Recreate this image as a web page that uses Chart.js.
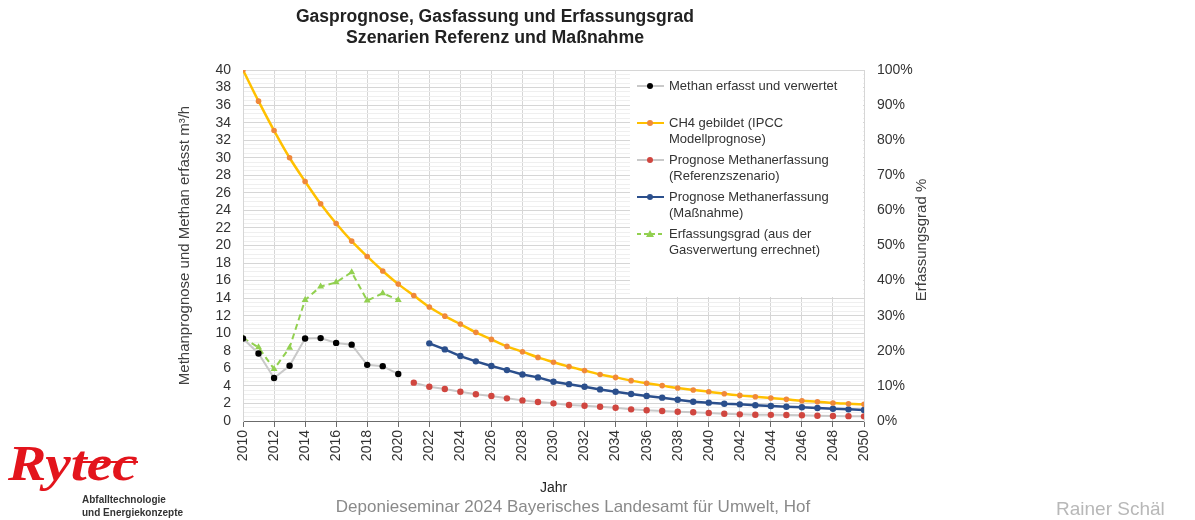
<!DOCTYPE html>
<html lang="de">
<head>
  <meta charset="UTF-8">
  <title>Gasprognose, Gasfassung und Erfassungsgrad</title>
  <script src="https://cdn.jsdelivr.net/npm/chart.js"></script>
  <style>
    body { margin: 0; background: #fff; }
    canvas { display: block; }
  </style>
</head>
<body>
  <canvas id="gasChart" width="1195" height="520"></canvas>

  <script>
    // measured values 2010-2020
    const measuredYears = [2010, 2011, 2012, 2013, 2014, 2015, 2016, 2017, 2018, 2019, 2020]
    const methanErfasst = [9.4, 7.7, 4.9, 6.3, 9.4, 9.45, 8.9, 8.7, 6.4, 6.25, 5.35]
    const erfassungsgrad = [23.6, 21.0, 14.8, 20.9, 34.5, 38.3, 39.5, 42.4, 34.3, 36.4, 34.5]

    // IPCC model forecast 2010-2050
    const ch4Start = 2010
    const ch4Gebildet = [40, 36.45, 33.1, 30.0, 27.3, 24.75, 22.5, 20.5, 18.75, 17.1,
      15.6, 14.3, 13.0, 11.95, 11.05, 10.1, 9.3, 8.5, 7.9, 7.25,
      6.7, 6.2, 5.75, 5.3, 4.97, 4.6, 4.3, 4.03, 3.76, 3.53,
      3.34, 3.11, 2.92, 2.77, 2.62, 2.47, 2.31, 2.2, 2.05, 1.97, 1.9]

    // capture forecast, reference scenario 2021-2050
    const refStart = 2021
    const prognoseReferenz = [4.37, 3.9, 3.64, 3.34, 3.04, 2.85, 2.58, 2.35, 2.16, 2.01,
      1.82, 1.74, 1.63, 1.51, 1.33, 1.22, 1.14, 1.06, 0.99, 0.91,
      0.83, 0.76, 0.72, 0.7, 0.68, 0.65, 0.6, 0.57, 0.55, 0.53]

    // capture forecast with measures 2022-2050
    const massStart = 2022
    const prognoseMassnahme = [8.85, 8.16, 7.4, 6.8, 6.26, 5.8, 5.3, 4.97, 4.48, 4.2,
      3.9, 3.6, 3.34, 3.08, 2.85, 2.66, 2.43, 2.2, 2.09, 1.97,
      1.9, 1.79, 1.71, 1.63, 1.56, 1.48, 1.4, 1.33, 1.25]

    const legendLabels = [
      ["Methan erfasst und verwertet"],
      ["CH4 gebildet (IPCC", "Modellprognose)"],
      ["Prognose Methanerfassung", "(Referenzszenario)"],
      ["Prognose Methanerfassung", "(Maßnahme)"],
      ["Erfassungsgrad (aus der", "Gasverwertung errechnet)"]
    ]

    const fromStart = (start, vals) => vals.map((v, i) => ({ x: start + i, y: v }))
    const fromYears = (yrs, vals) => vals.map((v, i) => ({ x: yrs[i], y: v }))

    const FONT = '"Liberation Sans", Arial, sans-serif'
    const TEXT = '#404040'

    const datasets = [
      {
        label: legendLabels[0].join(' '),
        data: fromYears(measuredYears, methanErfasst),
        borderColor: '#c9c9c9', borderWidth: 2,
        pointBackgroundColor: '#000', pointBorderWidth: 0,
        pointRadius: 3.2, yAxisID: 'y'
      },
      {
        label: legendLabels[1].join(' '),
        data: fromStart(ch4Start, ch4Gebildet),
        borderColor: '#ffc000', borderWidth: 2.5,
        pointBackgroundColor: '#f0883a', pointBorderWidth: 0,
        pointRadius: 2.8, cubicInterpolationMode: 'monotone', yAxisID: 'y'
      },
      {
        label: legendLabels[2].join(' '),
        data: fromStart(refStart, prognoseReferenz),
        borderColor: '#c9c9c9', borderWidth: 2,
        pointBackgroundColor: '#d0463f', pointBorderWidth: 0,
        pointRadius: 3.2, yAxisID: 'y'
      },
      {
        label: legendLabels[3].join(' '),
        data: fromStart(massStart, prognoseMassnahme),
        borderColor: '#2b4f8c', borderWidth: 2.5,
        pointBackgroundColor: '#2b4f8c', pointBorderWidth: 0,
        pointRadius: 3.2, yAxisID: 'y'
      },
      {
        label: legendLabels[4].join(' '),
        data: fromYears(measuredYears, erfassungsgrad),
        borderColor: '#92d050', borderWidth: 2, borderDash: [6, 4],
        pointStyle: 'triangle',
        pointBackgroundColor: '#92d050', pointBorderWidth: 0,
        pointRadius: 4, yAxisID: 'y1'
      }
    ]

    // draw text squeezed horizontally to a given width
    function fitText(ctx, text, cx, cy, width) {
      const w = ctx.measureText(text).width
      ctx.save()
      ctx.translate(cx, cy)
      ctx.scale(width / w, 1)
      ctx.fillText(text, 0, 0)
      ctx.restore()
    }

    // titles, legend box, footer and logo
    const decorations = {
      id: 'decorations',
      afterDatasetsDraw(chart) {
        const ctx = chart.ctx
        ctx.save()

        // title
        ctx.fillStyle = '#222'
        ctx.textAlign = 'center'
        ctx.textBaseline = 'middle'
        ctx.font = 'bold 18px ' + FONT
        fitText(ctx, 'Gasprognose, Gasfassung und Erfassungsgrad', 495, 17, 398)
        fitText(ctx, 'Szenarien Referenz und Maßnahme', 495, 38, 298)

        // right axis title, reading upwards
        ctx.save()
        ctx.translate(922, 240)
        ctx.rotate(-Math.PI / 2)
        ctx.font = '15px ' + FONT
        ctx.fillStyle = TEXT
        ctx.fillText('Erfassungsgrad %', 0, 0)
        ctx.restore()

        // legend box
        ctx.fillStyle = '#fff'
        ctx.fillRect(630, 71, 233, 226)
        const rows = [86, 123, 160, 197, 234]
        ctx.font = '13px ' + FONT
        ctx.textAlign = 'left'
        chart.data.datasets.forEach((ds, i) => {
          const y = rows[i]
          ctx.save()
          ctx.strokeStyle = ds.borderColor
          ctx.lineWidth = 2
          if (ds.borderDash) ctx.setLineDash([4, 3])
          ctx.beginPath()
          ctx.moveTo(637, y)
          ctx.lineTo(664, y)
          ctx.stroke()
          ctx.restore()
          ctx.fillStyle = ds.pointBackgroundColor
          ctx.beginPath()
          if (ds.pointStyle === 'triangle') {
            ctx.moveTo(650, y - 4)
            ctx.lineTo(654, y + 3)
            ctx.lineTo(646, y + 3)
            ctx.closePath()
          } else {
            ctx.arc(650, y, 3, 0, Math.PI * 2)
          }
          ctx.fill()
          ctx.fillStyle = '#333'
          legendLabels[i].forEach((line, j) => ctx.fillText(line, 669, y + j * 16))
        })

        // footer
        ctx.textAlign = 'center'
        ctx.font = '17px ' + FONT
        ctx.fillStyle = '#8a8a8a'
        ctx.fillText('Deponieseminar 2024 Bayerisches Landesamt für Umwelt, Hof', 573, 507)
        ctx.font = '19px ' + FONT
        ctx.fillStyle = '#b8b8b8'
        ctx.textAlign = 'left'
        ctx.fillText('Rainer Schäl', 1056, 510)

        // logo
        ctx.fillStyle = '#e3141c'
        ctx.textBaseline = 'alphabetic'
        ctx.font = 'italic bold 50px "Liberation Serif", "DejaVu Serif", serif'
        ctx.save()
        ctx.translate(8, 480)
        ctx.scale(1.15, 1)
        ctx.fillText('Rytec', 0, 0)
        ctx.restore()
        ctx.fillRect(82, 461, 56, 2)
        ctx.fillStyle = '#333'
        ctx.textBaseline = 'middle'
        ctx.font = 'bold 10px ' + FONT
        ctx.fillText('Abfalltechnologie', 82, 500)
        ctx.fillText('und Energiekonzepte', 82, 513)

        ctx.restore()
      }
    }

    const ctx = document.getElementById('gasChart').getContext('2d')
    const gasChart = new Chart(ctx, {
      type: 'line',
      data: { datasets },
      options: {
        responsive: false,
        animation: false,
        layout: { padding: { left: 172, right: 261, top: 70, bottom: 19 } },
        plugins: {
          legend: { display: false },
          tooltip: { enabled: false }
        },
        scales: {
          x: {
            type: 'linear',
            min: 2010, max: 2050,
            grid: { color: '#d6d6d6', tickColor: '#6b6b6b', tickLength: 6 },
            border: { color: '#6b6b6b' },
            ticks: {
              stepSize: 2, autoSkip: false, minRotation: 90, maxRotation: 90,
              color: '#333', font: { size: 14, family: FONT },
              callback: v => String(v)
            },
            title: { display: true, text: 'Jahr', color: '#222', font: { size: 14, family: FONT } },
            afterFit: s => { s.height = 80 }
          },
          yMinor: {
            type: 'linear', position: 'left', min: 0, max: 40, z: -1,
            ticks: { display: false, stepSize: 0.5 },
            grid: { color: '#efefef', drawTicks: false },
            border: { display: false },
            afterFit: s => { s.width = 0 }
          },
          y: {
            type: 'linear', position: 'left', min: 0, max: 40,
            grid: { color: '#d6d6d6', drawTicks: false },
            border: { color: '#d6d6d6' },
            ticks: {
              stepSize: 2, autoSkip: false, padding: 12,
              color: '#333', font: { size: 14, family: FONT }
            },
            title: {
              display: true, text: 'Methanprognose und Methan erfasst m³/h',
              color: TEXT, font: { size: 15, family: FONT }
            },
            afterFit: s => { s.width = 71 }
          },
          y1: {
            type: 'linear', position: 'right', min: 0, max: 100,
            grid: { drawOnChartArea: false, drawTicks: false },
            border: { color: '#d6d6d6' },
            ticks: {
              stepSize: 10, autoSkip: false, padding: 13,
              color: '#333', font: { size: 14, family: FONT },
              callback: v => v + '%'
            },
            afterFit: s => { s.width = 70 }
          }
        }
      },
      plugins: [decorations]
    })
  </script>
</body>
</html>
